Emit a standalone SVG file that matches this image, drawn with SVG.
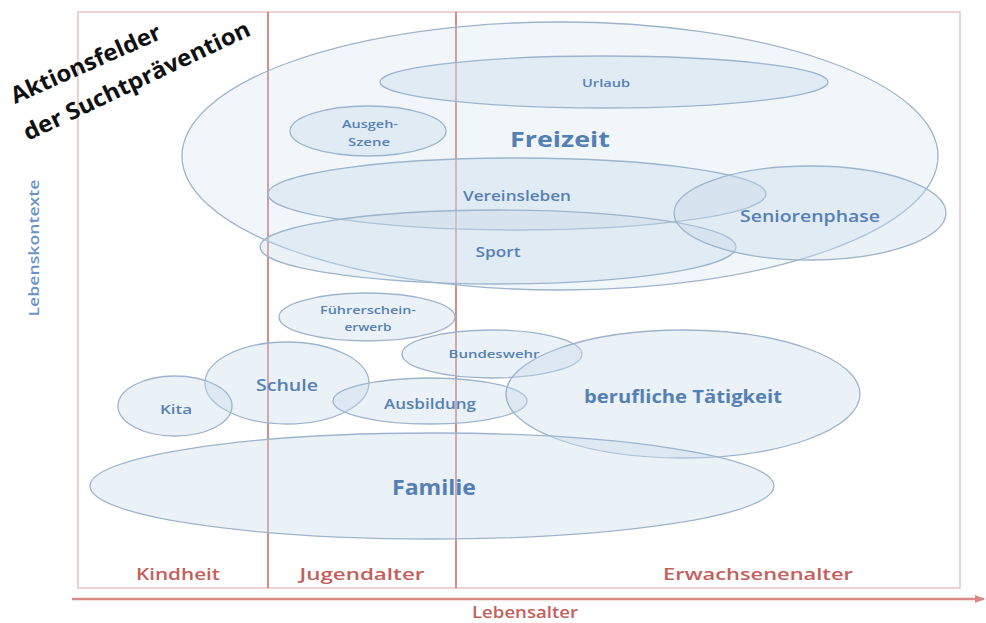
<svg xmlns="http://www.w3.org/2000/svg" width="986" height="623" viewBox="0 0 986 623">
<style>
.e{fill:#c9dbeb;fill-opacity:0.38;stroke:#9db4cc;stroke-width:1.3}
.t{font-family:"Open Sans","Liberation Sans",sans-serif;font-weight:bold;fill:#5580b4;text-anchor:middle}
.s{font-weight:600}
.r{font-family:"Open Sans","Liberation Sans",sans-serif;font-weight:600;fill:#c4605c;text-anchor:middle}
.k{font-family:"Open Sans","Liberation Sans",sans-serif;font-weight:bold;font-size:23px;fill:#111}
.ln{stroke:#c8706c;stroke-width:1.6;fill:none}
</style>
<defs>
<marker id="ah" markerWidth="10" markerHeight="8" refX="9" refY="4" orient="auto" markerUnits="userSpaceOnUse">
<path d="M0,0 L10,4 L0,8 z" fill="#d98a86"/>
</marker>
</defs>
<rect width="986" height="623" fill="#ffffff"/>
<g id="frame">
<rect x="78" y="12" width="882" height="576" fill="none" stroke="#e5c3c3" stroke-width="1.5"/>
<line class="ln" x1="268" y1="12" x2="268" y2="588"/>
<line class="ln" x1="456" y1="12" x2="456" y2="588"/>
</g>
<g id="freizeit"><ellipse class="e" cx="560" cy="156" rx="378" ry="134" style="fill-opacity:0.25"/><text class="t" x="560" y="147" font-size="21" textLength="100" lengthAdjust="spacingAndGlyphs">Freizeit</text></g>
<g id="urlaub"><ellipse class="e" cx="604" cy="82" rx="224" ry="26"/><text class="t s" x="606" y="87" font-size="11" textLength="48" lengthAdjust="spacingAndGlyphs">Urlaub</text></g>
<g id="ausgeh"><ellipse class="e" cx="368" cy="131" rx="78" ry="25"/><text class="t s" x="370" y="128" font-size="11" textLength="56" lengthAdjust="spacingAndGlyphs">Ausgeh-</text><text class="t s" x="369" y="146" font-size="11" textLength="42" lengthAdjust="spacingAndGlyphs">Szene</text></g>
<g id="vereinsleben"><ellipse class="e" cx="517" cy="194" rx="249" ry="36"/><text class="t s" x="517" y="201" font-size="14" textLength="108" lengthAdjust="spacingAndGlyphs">Vereinsleben</text></g>
<g id="sport"><ellipse class="e" cx="498" cy="247" rx="238" ry="37"/><text class="t s" x="498" y="257" font-size="14" textLength="45" lengthAdjust="spacingAndGlyphs">Sport</text></g>
<g id="senioren"><ellipse class="e" cx="810" cy="213" rx="136" ry="47"/><text class="t s" x="810" y="222" font-size="16" textLength="140" lengthAdjust="spacingAndGlyphs">Seniorenphase</text></g>
<g id="fuehrerschein"><ellipse class="e" cx="367" cy="317" rx="88" ry="24"/><text class="t s" x="368" y="314" font-size="11" textLength="96" lengthAdjust="spacingAndGlyphs">Führerschein-</text><text class="t s" x="368" y="331" font-size="11" textLength="47" lengthAdjust="spacingAndGlyphs">erwerb</text></g>
<g id="bundeswehr"><ellipse class="e" cx="492" cy="354" rx="90" ry="24"/><text class="t s" x="494" y="358" font-size="11" textLength="91" lengthAdjust="spacingAndGlyphs">Bundeswehr</text></g>
<g id="schule"><ellipse class="e" cx="287" cy="383" rx="82" ry="41"/><text class="t s" x="287" y="391" font-size="16" textLength="62" lengthAdjust="spacingAndGlyphs">Schule</text></g>
<g id="kita"><ellipse class="e" cx="175" cy="406" rx="57" ry="30"/><text class="t s" x="176" y="414" font-size="13" textLength="32" lengthAdjust="spacingAndGlyphs">Kita</text></g>
<g id="ausbildung"><ellipse class="e" cx="430" cy="401" rx="97" ry="23"/><text class="t s" x="430" y="409" font-size="14" textLength="92" lengthAdjust="spacingAndGlyphs">Ausbildung</text></g>
<g id="beruf"><ellipse class="e" cx="683" cy="394" rx="177" ry="64"/><text class="t" x="683" y="403" font-size="18" textLength="198" lengthAdjust="spacingAndGlyphs">berufliche Tätigkeit</text></g>
<g id="familie"><ellipse class="e" cx="432" cy="486" rx="342" ry="53"/><text class="t" x="434" y="495" font-size="21" textLength="84" lengthAdjust="spacingAndGlyphs">Familie</text></g>
<g id="connectors">
<line x1="72" y1="599" x2="984" y2="599" stroke="#d98a86" stroke-width="2.5" marker-end="url(#ah)"/>
</g>
<g id="labels">
<text class="r" x="178" y="580" font-size="17" textLength="84" lengthAdjust="spacingAndGlyphs">Kindheit</text>
<text class="r" x="362" y="580" font-size="17" textLength="125" lengthAdjust="spacingAndGlyphs">Jugendalter</text>
<text class="r" x="758" y="580" font-size="17" textLength="190" lengthAdjust="spacingAndGlyphs">Erwachsenenalter</text>
<text class="r" x="525" y="618" font-size="17" textLength="106" lengthAdjust="spacingAndGlyphs">Lebensalter</text>
<text class="t s" x="0" y="0" font-size="15" style="fill:#6a94c6" textLength="137" lengthAdjust="spacingAndGlyphs" transform="translate(39,248) rotate(-90)">Lebenskontexte</text>
<text class="k" x="15" y="104" transform="rotate(-24 15 104)" textLength="162" lengthAdjust="spacingAndGlyphs">Aktionsfelder</text>
<text class="k" x="28" y="141" transform="rotate(-25.4 28 141)" textLength="248" lengthAdjust="spacingAndGlyphs">der Suchtprävention</text>
</g>
</svg>
